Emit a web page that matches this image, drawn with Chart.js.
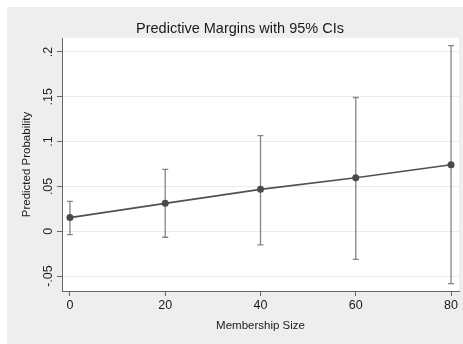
<!DOCTYPE html>
<html>
<head>
<meta charset="utf-8">
<script src="https://cdn.jsdelivr.net/npm/chart.js@4/dist/chart.umd.min.js"></script>
<style>
html, body { margin: 0; padding: 0; background: #ffffff; }
#wrap { width: 463px; height: 344px; }
</style>
</head>
<body>
<div id="wrap"><canvas id="c" width="463" height="344"></canvas></div>
<script>
// membership size on x, predictive margins with 95% CIs
var sizes = [0, 20, 40, 60, 80];
var margins = [0.0152, 0.0311, 0.0467, 0.0596, 0.0741];
var ciLow = [-0.0037, -0.0067, -0.0152, -0.0315, -0.0585];
var ciHigh = [0.0333, 0.0689, 0.1067, 0.1492, 0.2070];
var yTicks = [-0.05, 0, 0.05, 0.1, 0.15, 0.2];
var xTicks = [0, 20, 40, 60, 80];

var titleText = "Predictive Margins with 95% CIs";
var fontFam = "'Liberation Sans', Arial, Helvetica, sans-serif";

function stataLabel(v){
	if (Math.abs(v) < 1e-9) return "0";
	var s = String(Math.round(v * 1000) / 1000);
	return s.replace("0.", ".");
}

var background = {
	id: "background",
	beforeDraw: function(chart){
		var ctx = chart.ctx, a = chart.chartArea;
		ctx.save();
		ctx.fillStyle = "#ffffff";
		ctx.fillRect(0, 0, chart.width, chart.height);
		ctx.fillStyle = "#eeeeee";
		ctx.fillRect(7, 7, chart.width - 7, chart.height - 7);
		ctx.fillStyle = "#ffffff";
		ctx.fillRect(a.left, a.top, a.right - a.left, a.bottom - a.top);
		ctx.fillStyle = "#1a1a1a";
		ctx.font = "14.5px " + fontFam;
		ctx.textAlign = "center";
		ctx.textBaseline = "middle";
		ctx.fillText(titleText, 240, 29);
		ctx.restore();
	},
	afterDraw: function(chart){
		// y tick labels turned sideways, Stata style
		var ctx = chart.ctx, ys = chart.scales.y;
		ctx.save();
		ctx.fillStyle = "#1a1a1a";
		ctx.font = "12.5px " + fontFam;
		ctx.textAlign = "center";
		ctx.textBaseline = "middle";
		yTicks.forEach(function(v){
			var py = ys.getPixelForValue(v);
			ctx.save();
			ctx.translate(49, py);
			ctx.rotate(-Math.PI / 2);
			ctx.fillText(stataLabel(v), 0, 0);
			ctx.restore();
		});
		ctx.restore();
	}
};

var errorBars = {
	id: "errorBars",
	beforeDatasetsDraw: function(chart){
		var ctx = chart.ctx;
		var xs = chart.scales.x, ys = chart.scales.y;
		ctx.save();
		ctx.strokeStyle = "#858585";
		ctx.lineWidth = 1.3;
		for (var i = 0; i < sizes.length; i++) {
			var px = xs.getPixelForValue(sizes[i]);
			var lo = ys.getPixelForValue(ciLow[i]);
			var hi = ys.getPixelForValue(ciHigh[i]);
			ctx.beginPath();
			ctx.moveTo(px, lo); ctx.lineTo(px, hi);
			ctx.moveTo(px - 3, lo); ctx.lineTo(px + 3, lo);
			ctx.moveTo(px - 3, hi); ctx.lineTo(px + 3, hi);
			ctx.stroke();
		}
		ctx.restore();
	}
};

new Chart("c", {
	type: "line",
	data: {
		datasets: [{
			data: sizes.map(function(s, i){ return {x: s, y: margins[i]}; }),
			borderColor: "#505050",
			backgroundColor: "#4a4a4a",
			borderWidth: 1.6,
			pointRadius: 3.5,
			pointBorderWidth: 0,
			tension: 0
		}]
	},
	options: {
		responsive: false,
		animation: false,
		layout: { padding: { top: 38, right: 2, left: 0, bottom: 0 } },
		plugins: {
			legend: { display: false },
			title: { display: false },
			tooltip: { enabled: false }
		},
		scales: {
			x: {
				type: "linear",
				min: -1.67,
				max: 81.67,
				afterBuildTicks: function(axis){ axis.ticks = xTicks.map(function(v){ return {value: v}; }); },
				afterFit: function(axis){ axis.height = 53; },
				grid: { drawOnChartArea: false, tickLength: 5, color: "#666666" },
				border: { color: "#666666", width: 1 },
				ticks: {
					color: "#1a1a1a",
					padding: 2,
					maxRotation: 0,
					font: { family: fontFam, size: 12.5 }
				},
				title: {
					display: true,
					text: "Membership Size",
					color: "#1a1a1a",
					font: { family: fontFam, size: 11.5 },
					padding: { top: 4, bottom: 11 }
				}
			},
			y: {
				type: "linear",
				min: -0.0667,
				max: 0.2156,
				afterBuildTicks: function(axis){ axis.ticks = yTicks.map(function(v){ return {value: v}; }); },
				afterFit: function(axis){ axis.width = 62; },
				grid: { color: "#ececec", tickColor: "#666666", tickLength: 5 },
				border: { color: "#666666", width: 1 },
				ticks: { display: false },
				title: {
					display: true,
					text: "Predicted Probability",
					color: "#1a1a1a",
					font: { family: fontFam, size: 11.5 },
					padding: { top: 20, bottom: 0 }
				}
			}
		}
	},
	plugins: [background, errorBars]
});
</script>
</body>
</html>
